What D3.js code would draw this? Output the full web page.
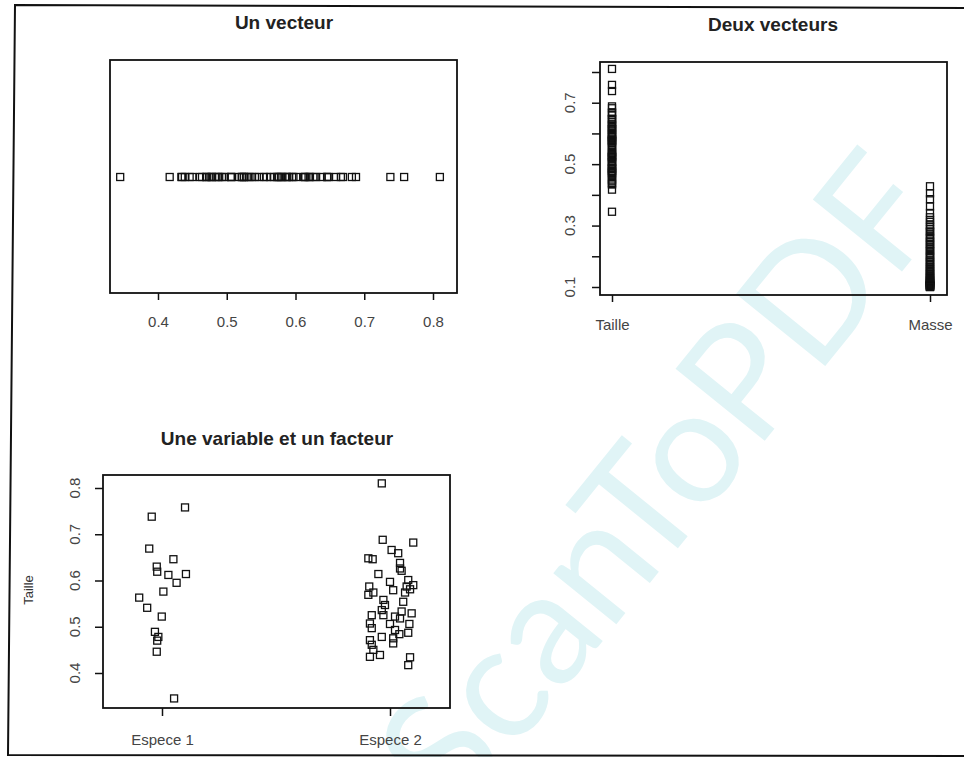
<!DOCTYPE html>
<html>
<head>
<meta charset="utf-8">
<script src="https://cdn.jsdelivr.net/npm/d3@7/dist/d3.min.js"></script>
<style>
  html, body { margin: 0; padding: 0; background: #fff; }
  svg { display: block; }
  text { font-family: "Liberation Sans", Arial, sans-serif; fill: #222; }
  .title { font-weight: bold; font-size: 19px; }
  .tick { font-size: 15px; fill: #444; }
</style>
</head>
<body>
<svg id="fig" width="964" height="757"></svg>
<script>
// Taille, espece 1 : position jitterée sur l'axe des facteurs et valeur
const jitter1 = [1.101, 0.955, 0.944, 1.050, 0.977, 0.979, 1.028, 1.105, 1.064,
                 1.006, 0.900, 0.935, 0.999, 0.969, 0.984, 0.979, 0.977, 1.053];
const taille1 = [0.758, 0.738, 0.669, 0.646, 0.630, 0.619, 0.612, 0.614, 0.595,
                 0.576, 0.563, 0.541, 0.522, 0.489, 0.478, 0.470, 0.446, 0.345];

// Taille, espece 2
const jitter2 = [1.964, 1.968, 2.102, 2.007, 2.036, 1.905, 1.924, 2.044, 2.044, 2.051,
                 1.949, 2.000, 2.080, 2.102, 2.073, 1.909, 2.014, 2.088, 1.927, 1.905,
                 2.066, 1.971, 2.058, 1.978, 1.964, 2.051, 2.095, 1.920, 1.971, 2.022,
                 2.044, 1.912, 2.000, 2.085, 2.022, 1.920, 2.080, 2.041, 1.964, 2.014,
                 1.912, 1.920, 2.014, 1.927, 1.956, 1.912, 2.088, 2.080];
const taille2 = [0.810, 0.688, 0.682, 0.666, 0.659, 0.648, 0.646, 0.638, 0.626, 0.621,
                 0.614, 0.597, 0.601, 0.590, 0.587, 0.587, 0.579, 0.581, 0.574, 0.569,
                 0.574, 0.558, 0.554, 0.547, 0.536, 0.533, 0.529, 0.525, 0.525, 0.522,
                 0.518, 0.507, 0.506, 0.506, 0.493, 0.497, 0.487, 0.484, 0.478, 0.475,
                 0.471, 0.461, 0.464, 0.450, 0.439, 0.435, 0.434, 0.417];

// Masse des mêmes individus
const masse = [0.428, 0.405, 0.386, 0.362, 0.341, 0.327, 0.318, 0.312, 0.301, 0.296,
               0.288, 0.281, 0.279, 0.268, 0.262, 0.259, 0.251, 0.247, 0.240, 0.236,
               0.231, 0.224, 0.219, 0.217, 0.209, 0.204, 0.198, 0.196, 0.189, 0.183,
               0.181, 0.176, 0.171, 0.166, 0.163, 0.158, 0.154, 0.152, 0.147, 0.143,
               0.141, 0.137, 0.134, 0.131, 0.128, 0.126, 0.123, 0.121, 0.119, 0.117,
               0.115, 0.114, 0.112, 0.111, 0.109, 0.108, 0.107, 0.106, 0.105, 0.104,
               0.103, 0.102, 0.102, 0.101, 0.100, 0.100];

const especes = ["Espece 1", "Espece 2"];
const vecteurs = ["Taille", "Masse"];
const ticksVecteur = [0.4, 0.5, 0.6, 0.7, 0.8];
const ticksDeux = [0.1, 0.2, 0.3, 0.4, 0.5, 0.6, 0.7, 0.8];
const labelsDeux = [0.1, 0.3, 0.5, 0.7];
const ticksFacteur = [0.4, 0.5, 0.6, 0.7, 0.8];
const titres = ["Un vecteur", "Deux vecteurs", "Une variable et un facteur"];

const taille = taille1.concat(taille2);

const svg = d3.select("#fig");
const S = 7; // côté des carrés (pch = 0)

// filigrane en arrière-plan
svg.append("text")
  .attr("transform", "translate(655,478) rotate(-51)")
  .attr("text-anchor", "middle")
  .attr("dominant-baseline", "central")
  .style("font-family", "Lato, 'Open Sans', sans-serif")
  .style("font-weight", 400)
  .style("font-size", "160px")
  .style("fill", "#e0f4f6")
  .text("ScanToPDF");

// cadre de la figure
svg.append("path")
  .attr("d", "M964,8 L15,5 L8,755 L964,756")
  .attr("fill", "none").attr("stroke", "#111").attr("stroke-width", 2);

function squares(g, data, fx, fy) {
  g.selectAll(null).data(data).join("rect")
    .attr("x", (d, i) => fx(d, i) - S / 2)
    .attr("y", (d, i) => fy(d, i) - S / 2)
    .attr("width", S).attr("height", S)
    .attr("fill", "none").attr("stroke", "#111").attr("stroke-width", 1.3);
}

function box(g, x0, y0, x1, y1) {
  g.append("rect").attr("x", x0).attr("y", y0)
    .attr("width", x1 - x0).attr("height", y1 - y0)
    .attr("fill", "none").attr("stroke", "#111").attr("stroke-width", 1.8);
}

function styleAxis(sel) {
  sel.select(".domain").remove();
  sel.selectAll(".tick line").attr("stroke", "#111").attr("stroke-width", 1.5);
  sel.selectAll(".tick text").attr("class", "tick").style("font-family", null).style("font-size", null);
  sel.attr("font-family", null).attr("font-size", null);
}

// ---- Panneau 1 : un vecteur ----
{
  const g = svg.append("g");
  const x = d3.scaleLinear().domain([0.4, 0.8]).range([158, 433]);
  const yMid = 177;
  box(g, 110, 60, 457, 293);
  squares(g, taille, d => x(d), () => yMid);
  const ax = g.append("g").attr("transform", "translate(0,293)")
    .call(d3.axisBottom(x).tickValues(ticksVecteur).tickSize(7).tickPadding(16)
      .tickFormat(d3.format(".1f")));
  styleAxis(ax);
  g.append("text").attr("class", "title").attr("x", 284).attr("y", 29)
    .attr("text-anchor", "middle").text(titres[0]);
}

// ---- Panneau 2 : deux vecteurs ----
{
  const g = svg.append("g");
  const y = d3.scaleLinear().domain([0.1, 0.8]).range([287, 72]);
  const x = d3.scalePoint().domain(vecteurs).range([612, 930]);
  box(g, 600, 62, 947, 295);
  squares(g, taille, () => x("Taille"), d => y(d));
  squares(g, masse, () => x("Masse"), d => y(d));
  const ay = g.append("g").attr("transform", "translate(600,0)")
    .call(d3.axisLeft(y).tickValues(ticksDeux).tickSize(8).tickFormat(""));
  styleAxis(ay);
  g.selectAll(null).data(labelsDeux).join("text")
    .attr("class", "tick")
    .attr("transform", d => `translate(575,${y(d)}) rotate(-90)`)
    .attr("text-anchor", "middle").text(d3.format(".1f"));
  const ax = g.append("g").attr("transform", "translate(0,295)")
    .call(d3.axisBottom(x).tickSize(7).tickPadding(17));
  styleAxis(ax);
  g.append("text").attr("class", "title").attr("x", 773).attr("y", 31)
    .attr("text-anchor", "middle").text(titres[1]);
}

// ---- Panneau 3 : une variable et un facteur ----
{
  const g = svg.append("g");
  const y = d3.scaleLinear().domain([0.4, 0.8]).range([673, 488]);
  const x = d3.scaleLinear().domain([1, 2]).range([162, 390]);
  box(g, 103, 475, 450, 708);
  squares(g, taille1, (d, i) => x(jitter1[i]), d => y(d));
  squares(g, taille2, (d, i) => x(jitter2[i]), d => y(d));
  const ay = g.append("g").attr("transform", "translate(103,0)")
    .call(d3.axisLeft(y).tickValues(ticksFacteur).tickSize(8).tickFormat(""));
  styleAxis(ay);
  g.selectAll(null).data(ticksFacteur).join("text")
    .attr("class", "tick")
    .attr("transform", d => `translate(80,${y(d)}) rotate(-90)`)
    .attr("text-anchor", "middle").text(d3.format(".1f"));
  const ax = g.append("g").attr("transform", "translate(0,708)")
    .call(d3.axisBottom(x).tickValues([1, 2]).tickSize(8).tickPadding(18)
      .tickFormat((d, i) => especes[i]));
  styleAxis(ax);
  g.append("text").attr("transform", "translate(33,590) rotate(-90)")
    .attr("text-anchor", "middle").style("font-size", "13px").style("fill", "#333")
    .text("Taille");
  g.append("text").attr("class", "title").attr("x", 277).attr("y", 445)
    .attr("text-anchor", "middle").text(titres[2]);
}
</script>
</body>
</html>
